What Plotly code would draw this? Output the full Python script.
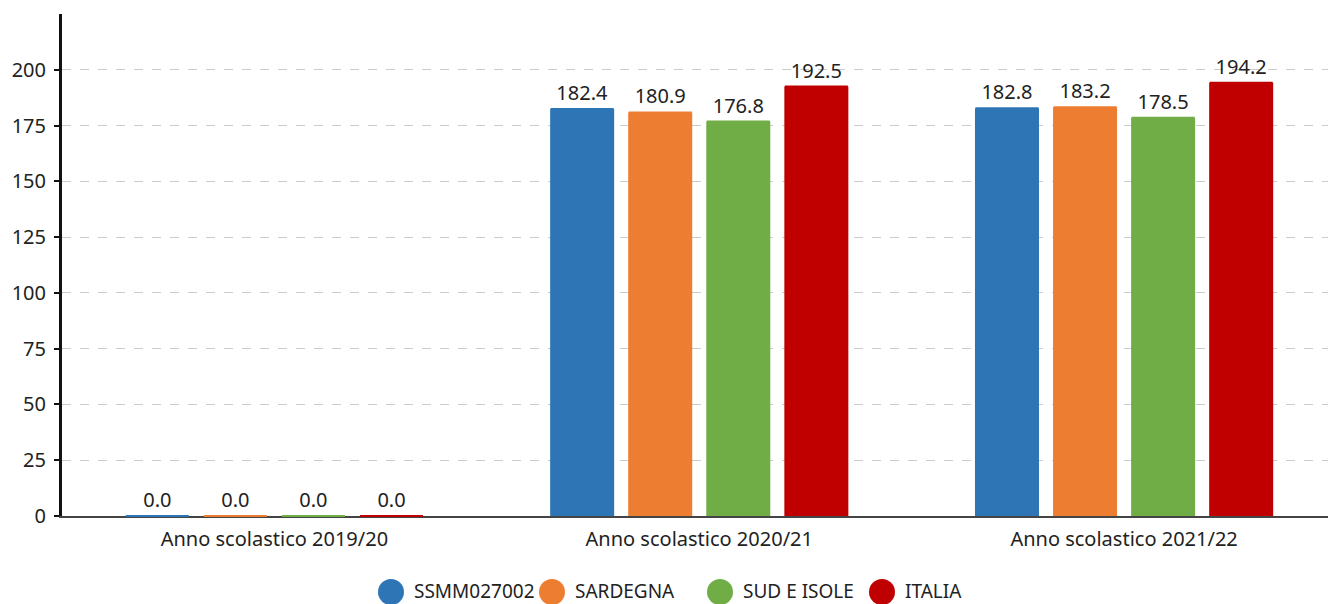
import plotly.graph_objects as go

categories = ["Anno scolastico 2019/20", "Anno scolastico 2020/21", "Anno scolastico 2021/22"]
series_names = ["SSMM027002", "SARDEGNA", "SUD E ISOLE", "ITALIA"]
values = {
    "SSMM027002": [0.0, 182.4, 182.8],
    "SARDEGNA": [0.0, 180.9, 183.2],
    "SUD E ISOLE": [0.0, 176.8, 178.5],
    "ITALIA": [0.0, 192.5, 194.2],
}
colors = ["#2e75b6", "#ed7d31", "#70ad47", "#c00000"]
y_ticks = [0, 25, 50, 75, 100, 125, 150, 175, 200]

FONT = "Noto Sans"
FS = 20
BARGAP = 0.265

fig = go.Figure()
for name, color in zip(series_names, colors):
    fig.add_trace(go.Bar(
        x=categories,
        y=values[name],
        name=name,
        offsetgroup=name,
        marker=dict(color=color, line=dict(width=0)),
        texttemplate="%{y:.1f}",
        textposition="outside",
        textfont=dict(family=FONT, size=FS, color="#222"),
        cliponaxis=False,
        showlegend=False,
    ))

# Thin caps so that zero-height bars remain visible on the baseline
for name, color in zip(series_names, colors):
    fig.add_trace(go.Scatter(
        x=categories,
        y=values[name],
        mode="markers",
        marker=dict(symbol="line-ew", size=45, line=dict(color=color, width=2)),
        offsetgroup=name,
        cliponaxis=False,
        hoverinfo="skip",
        showlegend=False,
    ))

# Legend drawn as circles plus labels below the plot
legend_x = [391, 552, 720, 882]
W, H = 1328, 604
ML, MR, MT, MB = 62, 0, 14, 88
LEG_Y = 591
for px, name, color in zip(legend_x, series_names, colors):
    fig.add_shape(type="circle", xref="paper", yref="paper",
                  xsizemode="pixel", ysizemode="pixel",
                  xanchor=(px - ML) / (W - ML - MR), yanchor=-(592 - (H - MB)) / (H - MT - MB),
                  x0=-13, x1=13, y0=-13, y1=13,
                  fillcolor=color, line=dict(width=0))
    fig.add_annotation(xref="paper", yref="paper",
                       x=(px + 21 - ML) / (W - ML - MR), y=-(LEG_Y - (H - MB)) / (H - MT - MB),
                       xanchor="left", yanchor="middle", showarrow=False,
                       text=name, font=dict(family=FONT, size=19, color="#222"))

fig.update_layout(
    width=W, height=H,
    margin=dict(l=ML, r=MR, t=MT, b=MB),
    paper_bgcolor="white", plot_bgcolor="white",
    barmode="group", bargap=BARGAP, bargroupgap=0.18,
    scattermode="group", scattergap=BARGAP,
    font=dict(family=FONT, size=FS, color="#222"),
    showlegend=False,
)
fig.update_xaxes(
    range=[-0.5, 2.48],
    showline=True, linecolor="#444", linewidth=2, layer="below traces",
    showgrid=False, ticks="", tickfont=dict(family=FONT, size=FS, color="#222"),
    ticklabelstandoff=4,
)
fig.update_yaxes(
    range=[0, 225], tickvals=y_ticks,
    showline=True, linecolor="#111", linewidth=3,
    ticks="outside", ticklen=5, tickwidth=2, tickcolor="#111",
    showgrid=True, gridcolor="#cccccc", griddash="dash", gridwidth=1,
    zeroline=False,
    tickfont=dict(family=FONT, size=FS, color="#222"),
    ticklabelstandoff=4,
)

fig.write_html("out.html")
